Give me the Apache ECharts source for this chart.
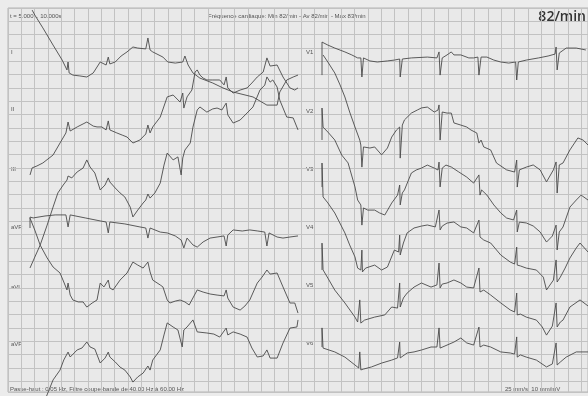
<!DOCTYPE html>
<html>
<head>
<meta charset="utf-8">
<script src="https://cdn.jsdelivr.net/npm/echarts@6/dist/echarts.min.js"></script>
<style>
  html, body { margin: 0; padding: 0; background: #f2f2f2; }
  #chart { width: 588px; height: 396px; }
</style>
</head>
<body>
<div id="chart"></div>
<script>
// 12-lead ECG, 5 s window, each lead as [time (s), amplitude (mV)] samples.
const limbLeads = ['I', 'II', 'III', 'aVR', 'aVL', 'aVF'];
const chestLeads = ['V1', 'V2', 'V3', 'V4', 'V5', 'V6'];

const leadI = [[0.04,2.00],[0.09,1.77],[0.24,1.17],[0.43,0.37],[0.60,-0.33],[0.69,-0.79],[0.71,-0.42],[0.73,-0.93],[0.80,-1.03],[0.93,-1.07],[1.06,-1.12],[1.18,-0.93],[1.31,-0.42],[1.42,-0.56],[1.46,-0.19],[1.49,-0.51],[1.59,-0.42],[1.70,-0.14],[1.81,0.05],[1.92,0.28],[2.01,0.23],[2.16,0.19],[2.20,0.70],[2.24,0.14],[2.29,0.05],[2.48,-0.19],[2.57,-0.42],[2.71,-0.47],[2.85,-0.42],[2.89,-0.14],[2.95,-0.56],[3.04,-0.93],[3.17,-1.17],[3.41,-1.40],[3.60,-1.63],[3.79,-1.82],[4.16,-2.05],[4.42,-2.43],[4.61,-2.43],[4.66,-1.82],[4.79,-1.26],[4.91,-1.12],[5.00,-1.03]];
const leadII = [[0.00,-3.03],[0.04,-2.70],[0.13,-2.61],[0.24,-2.47],[0.43,-2.10],[0.56,-1.54],[0.67,-1.07],[0.71,-0.56],[0.75,-0.98],[0.88,-0.79],[0.99,-0.65],[1.06,-0.56],[1.18,-0.75],[1.25,-0.79],[1.34,-0.79],[1.42,-0.93],[1.46,-0.51],[1.49,-0.93],[1.62,-1.07],[1.72,-1.17],[1.81,-1.26],[1.92,-1.54],[2.05,-1.40],[2.16,-1.12],[2.20,-0.70],[2.24,-1.07],[2.29,-0.79],[2.43,-0.33],[2.56,0.61],[2.67,0.70],[2.80,0.37],[2.85,0.79],[2.87,0.09],[2.93,0.61],[3.02,0.93],[3.08,1.77],[3.12,1.87],[3.17,1.63],[3.23,1.49],[3.30,1.40],[3.41,1.40],[3.54,1.40],[3.62,1.17],[3.66,1.54],[3.69,1.03],[3.79,0.79],[3.92,0.93],[4.05,1.03],[4.14,1.26],[4.24,1.54],[4.35,1.77],[4.42,2.43],[4.48,2.05],[4.61,2.10],[4.72,1.54],[4.85,1.03],[4.94,0.93],[5.00,1.03]];
const leadIII = [[0.00,-4.57],[0.09,-4.06],[0.19,-3.50],[0.32,-2.57],[0.43,-1.73],[0.52,-1.07],[0.62,-0.70],[0.69,-0.47],[0.71,-0.28],[0.78,-0.37],[0.88,-0.09],[0.99,0.09],[1.06,0.47],[1.12,0.14],[1.21,-0.14],[1.31,-0.93],[1.40,-0.70],[1.46,-0.37],[1.49,-0.56],[1.59,-0.84],[1.68,-1.07],[1.77,-1.26],[1.87,-1.73],[1.92,-2.19],[2.01,-1.87],[2.11,-1.54],[2.16,-1.40],[2.20,-1.12],[2.24,-1.31],[2.33,-1.07],[2.43,-0.61],[2.50,0.23],[2.56,0.79],[2.67,0.47],[2.76,0.61],[2.82,-0.23],[2.85,0.56],[2.89,0.93],[2.99,1.26],[3.04,2.00],[3.12,2.80],[3.17,2.94],[3.30,2.70],[3.41,2.85],[3.49,2.89],[3.58,2.80],[3.66,3.12],[3.69,2.57],[3.79,2.19],[3.92,2.33],[4.05,2.66],[4.16,2.94],[4.29,3.73],[4.38,3.96],[4.42,4.34],[4.48,4.10],[4.53,4.20],[4.61,3.87],[4.66,3.26],[4.79,2.47],[4.91,2.43],[5.00,1.87]];
const leadAVR = [[0.00,0.00],[0.00,0.51],[0.06,0.47],[0.28,0.56],[0.47,0.61],[0.67,0.61],[0.71,0.05],[0.75,0.61],[1.03,0.47],[1.31,0.33],[1.42,0.28],[1.46,-0.23],[1.49,0.28],[1.77,0.19],[2.05,0.05],[2.16,0.00],[2.20,-0.47],[2.24,0.00],[2.43,-0.19],[2.56,-0.23],[2.71,-0.37],[2.82,-0.56],[2.87,-0.93],[2.93,-0.47],[3.04,-0.79],[3.12,-0.89],[3.23,-0.65],[3.36,-0.47],[3.49,-0.42],[3.62,-0.37],[3.66,-0.84],[3.69,-0.33],[3.79,-0.09],[3.96,-0.14],[4.10,-0.09],[4.25,-0.14],[4.38,-0.19],[4.42,-0.84],[4.46,-0.23],[4.61,-0.42],[4.72,-0.47],[4.85,-0.42],[5.00,-0.37]];
const leadAVL = [[0.00,3.26],[0.09,2.70],[0.19,2.00],[0.32,1.40],[0.43,0.98],[0.56,0.70],[0.63,0.28],[0.69,-0.09],[0.71,0.23],[0.75,-0.33],[0.80,-0.56],[0.90,-0.65],[0.99,-0.65],[1.06,-0.89],[1.16,-0.70],[1.25,-0.56],[1.31,0.23],[1.38,0.05],[1.46,0.37],[1.49,0.00],[1.55,-0.09],[1.68,0.37],[1.81,0.70],[1.92,1.21],[2.01,1.07],[2.11,0.93],[2.20,1.21],[2.24,0.75],[2.29,0.37],[2.43,0.14],[2.48,0.05],[2.56,-0.56],[2.61,-0.70],[2.71,-0.61],[2.80,-0.56],[2.89,-0.65],[2.97,-0.79],[3.12,-0.09],[3.23,-0.19],[3.36,-0.28],[3.49,-0.33],[3.62,-0.37],[3.66,-0.09],[3.69,-0.47],[3.79,-0.89],[3.92,-1.03],[4.01,-0.84],[4.10,-0.56],[4.24,0.23],[4.33,0.51],[4.42,0.84],[4.48,0.65],[4.61,0.70],[4.72,0.05],[4.85,-0.70],[4.94,-0.70],[5.00,-1.17]];
const leadAVF = [[0.19,-3.12],[0.34,-2.19],[0.43,-1.63],[0.56,-1.17],[0.63,-0.70],[0.71,-0.33],[0.75,-0.56],[0.88,-0.23],[0.97,-0.14],[1.06,0.14],[1.12,-0.09],[1.21,-0.19],[1.31,-0.84],[1.40,-0.61],[1.46,-0.33],[1.49,-0.56],[1.59,-0.79],[1.68,-1.03],[1.77,-1.17],[1.87,-1.49],[1.92,-1.73],[2.01,-1.49],[2.11,-1.31],[2.20,-0.98],[2.24,-1.17],[2.29,-0.70],[2.43,-0.23],[2.50,0.47],[2.56,1.03],[2.67,0.84],[2.76,0.70],[2.84,-0.09],[2.87,0.70],[2.93,0.84],[3.04,1.17],[3.12,0.61],[3.30,0.56],[3.43,0.51],[3.54,0.37],[3.66,0.79],[3.69,0.47],[3.79,0.61],[3.92,0.51],[4.05,0.37],[4.14,-0.14],[4.24,-0.56],[4.35,-0.51],[4.42,-0.23],[4.48,-0.61],[4.61,-0.61],[4.72,0.09],[4.85,0.79],[4.98,0.84],[5.00,1.17]];

const leadV1 = [[0.00,-1.03],[0.00,0.51],[0.11,0.37],[0.24,0.23],[0.43,0.05],[0.56,-0.09],[0.67,-0.23],[0.73,-0.23],[0.75,-1.12],[0.78,-0.23],[0.90,-0.37],[1.04,-0.42],[1.23,-0.37],[1.36,-0.33],[1.46,-0.28],[1.47,-1.12],[1.51,-0.28],[1.68,-0.23],[1.98,-0.19],[2.16,-0.23],[2.20,0.05],[2.22,-1.03],[2.26,-0.23],[2.35,-0.09],[2.43,0.05],[2.48,-0.09],[2.61,-0.09],[2.76,-0.23],[2.85,-0.23],[2.93,-0.19],[2.95,-1.03],[2.99,-0.19],[3.10,-0.19],[3.23,-0.33],[3.36,-0.42],[3.51,-0.47],[3.64,-0.42],[3.66,-1.26],[3.69,-0.42],[3.84,-0.33],[4.07,-0.23],[4.25,-0.14],[4.38,-0.05],[4.40,0.28],[4.42,-0.79],[4.46,0.00],[4.59,0.23],[4.78,0.23],[4.96,0.14]];
const leadV2 = [[0.02,2.66],[0.11,2.33],[0.24,1.82],[0.34,1.26],[0.43,0.70],[0.52,0.00],[0.62,-0.70],[0.71,-1.31],[0.73,-1.54],[0.75,-2.57],[0.78,-1.63],[0.90,-1.68],[0.99,-1.63],[1.12,-2.00],[1.23,-1.68],[1.31,-1.17],[1.40,-0.84],[1.46,-0.70],[1.47,-2.15],[1.51,-0.61],[1.55,-0.37],[1.68,-0.05],[1.79,0.09],[1.87,0.19],[1.98,0.23],[2.11,0.00],[2.18,0.09],[2.20,0.33],[2.22,-1.31],[2.26,0.00],[2.35,-0.05],[2.43,-0.05],[2.48,-0.51],[2.61,-0.61],[2.72,-0.70],[2.80,-0.84],[2.91,-0.98],[2.95,-1.45],[2.99,-1.31],[3.04,-1.63],[3.17,-1.77],[3.28,-2.38],[3.47,-2.70],[3.62,-2.80],[3.66,-2.24],[3.67,-3.50],[3.71,-2.70],[3.84,-2.57],[3.97,-2.47],[4.10,-2.70],[4.22,-3.26],[4.35,-2.70],[4.40,-2.33],[4.42,-3.78],[4.46,-2.47],[4.53,-2.38],[4.66,-1.77],[4.81,-1.21],[4.91,-1.31],[5.00,-1.54]];
const leadV3 = [[0.00,1.40],[0.00,2.89],[0.02,2.00],[0.11,1.77],[0.24,1.40],[0.37,0.70],[0.49,0.33],[0.62,-0.79],[0.67,-1.40],[0.73,-1.63],[0.75,-2.57],[0.78,-1.77],[0.86,-1.87],[0.99,-1.87],[1.08,-2.00],[1.18,-2.10],[1.31,-1.54],[1.42,-1.17],[1.46,-0.70],[1.47,-1.63],[1.51,-1.07],[1.55,-0.93],[1.68,-0.14],[1.77,0.00],[1.87,0.09],[1.98,0.23],[2.11,0.09],[2.18,0.00],[2.20,0.37],[2.22,-0.79],[2.26,0.09],[2.33,0.23],[2.43,0.14],[2.57,-0.09],[2.72,-0.33],[2.85,-0.61],[2.95,-0.23],[2.97,-1.17],[3.00,-0.93],[3.10,-1.17],[3.23,-1.63],[3.36,-2.00],[3.47,-2.24],[3.60,-2.33],[3.66,-1.87],[3.67,-2.89],[3.71,-2.43],[3.84,-2.47],[3.97,-2.61],[4.10,-2.89],[4.22,-3.36],[4.33,-3.08],[4.40,-2.57],[4.42,-3.73],[4.46,-2.89],[4.53,-2.66],[4.66,-1.73],[4.78,-1.40],[4.87,-1.17],[5.00,-1.40]];
const leadV4 = [[0.00,1.91],[0.00,3.03],[0.02,1.45],[0.11,1.17],[0.24,0.70],[0.43,-0.23],[0.52,-0.79],[0.62,-1.35],[0.67,-1.87],[0.73,-1.96],[0.75,-1.03],[0.76,-2.05],[0.82,-1.87],[0.99,-1.73],[1.12,-1.96],[1.23,-1.82],[1.36,-1.03],[1.44,-1.12],[1.46,-0.33],[1.47,-1.26],[1.53,-0.70],[1.60,-0.23],[1.73,0.00],[1.87,0.09],[1.98,0.14],[2.13,0.05],[2.20,0.84],[2.22,-0.09],[2.26,0.09],[2.35,0.23],[2.48,0.28],[2.61,0.05],[2.72,0.00],[2.85,-0.23],[2.95,0.37],[2.97,-0.42],[3.04,-0.56],[3.17,-0.70],[3.36,-1.26],[3.54,-1.59],[3.62,-1.68],[3.66,-0.89],[3.67,-1.73],[3.73,-1.77],[3.84,-1.87],[4.03,-1.96],[4.16,-2.29],[4.22,-2.89],[4.35,-2.43],[4.40,-1.49],[4.42,-2.52],[4.48,-2.29],[4.57,-1.87],[4.66,-1.40],[4.78,-0.93],[4.85,-0.70],[5.00,-1.12]];
const leadV5 = [[0.00,0.75],[0.00,2.00],[0.02,0.75],[0.11,0.37],[0.24,-0.19],[0.43,-0.79],[0.62,-1.45],[0.67,-1.68],[0.71,-0.65],[0.73,-1.73],[0.80,-1.59],[0.99,-1.45],[1.18,-1.35],[1.31,-0.98],[1.42,-1.03],[1.46,0.14],[1.47,-0.98],[1.53,-0.56],[1.60,-0.33],[1.73,-0.05],[1.87,0.14],[2.05,-0.05],[2.16,0.05],[2.20,1.07],[2.22,-0.09],[2.26,0.09],[2.35,0.14],[2.48,0.28],[2.61,0.14],[2.72,-0.05],[2.85,-0.09],[2.95,0.84],[2.97,-0.28],[3.04,-0.19],[3.17,-0.42],[3.36,-0.79],[3.54,-1.12],[3.62,-1.21],[3.66,-0.33],[3.67,-1.35],[3.73,-1.31],[3.84,-1.45],[4.03,-1.59],[4.14,-1.91],[4.22,-2.29],[4.33,-1.87],[4.40,-0.79],[4.42,-1.91],[4.48,-1.68],[4.53,-1.59],[4.66,-0.98],[4.85,-0.65],[5.00,-0.93]];
const leadV6 = [[0.00,-0.14],[0.00,0.75],[0.02,-0.19],[0.24,-0.37],[0.43,-0.61],[0.62,-0.98],[0.69,-1.12],[0.71,-0.37],[0.73,-1.21],[0.78,-1.17],[0.93,-1.07],[1.12,-0.89],[1.31,-0.75],[1.42,-0.65],[1.46,0.09],[1.47,-0.65],[1.60,-0.42],[1.73,-0.37],[1.87,-0.28],[2.05,-0.14],[2.16,-0.14],[2.20,0.75],[2.22,-0.19],[2.35,-0.05],[2.48,0.09],[2.61,0.28],[2.72,0.05],[2.85,-0.05],[2.95,0.79],[2.97,-0.14],[3.04,-0.05],[3.17,-0.14],[3.36,-0.37],[3.54,-0.42],[3.62,-0.47],[3.66,0.33],[3.67,-0.61],[3.73,-0.51],[3.84,-0.61],[4.03,-0.75],[4.22,-1.07],[4.33,-0.93],[4.40,0.05],[4.42,-0.98],[4.48,-0.84],[4.59,-0.61],[4.78,-0.37],[5.00,-0.37]];

const limbData = [leadI, leadII, leadIII, leadAVR, leadAVL, leadAVF];
const chestData = [leadV1, leadV2, leadV3, leadV4, leadV5, leadV6];

// Layout (pixels)
const W = 588, H = 396;
const PX_PER_MV = 21.44;              // 10 mm/mV
const rowBase = [53, 110, 170, 228, 288, 345];
const chestBase = [53, 112, 170, 228, 286, 344];
const LEFT_X = 30, RIGHT_X = 322, COL_W = 268;
const CELL = 13.33;                   // paper grid pitch
const PAPER = { left: 8, top: 8, width: 580, height: 384 };

const traceColor = '#4a4a4a';
const textColor = '#555555';
const font = '"Liberation Sans", Arial, sans-serif';

function leadSeries(data, base, axisIndex) {
  const offset = -base / PX_PER_MV;
  return {
    type: 'line',
    xAxisIndex: axisIndex,
    yAxisIndex: axisIndex,
    data: data.map(([t, v]) => [t, v + offset]),
    showSymbol: false,
    symbol: 'none',
    clip: false,
    lineStyle: { color: traceColor, width: 0.9 },
    silent: true,
    animation: false
  };
}

const series = [];
limbData.forEach((d, i) => series.push(leadSeries(d, rowBase[i], 1)));
chestData.forEach((d, i) => series.push(leadSeries(d, chestBase[i], 2)));

const yMin = -H / PX_PER_MV;
const hiddenAxis = { show: true, axisLine: { show: false }, axisTick: { show: false }, axisLabel: { show: false }, splitLine: { show: false } };

const labels = [];
limbLeads.forEach((n, i) => labels.push({ type: 'text', left: 11, top: rowBase[i] - 4, style: { text: n, fill: textColor, font: '6px ' + font } }));
chestLeads.forEach((n, i) => labels.push({ type: 'text', left: 306, top: chestBase[i] - 4, style: { text: n, fill: textColor, font: '6px ' + font } }));

const chart = echarts.init(document.getElementById('chart'), null, { renderer: 'canvas' });
chart.setOption({
  backgroundColor: '#ececec',
  animation: false,
  grid: [
    { left: PAPER.left, top: PAPER.top, width: PAPER.width, height: PAPER.height, show: true, borderColor: '#b5b5b5', borderWidth: 1, backgroundColor: '#e9e9e9' },
    { left: LEFT_X, top: 0, width: COL_W, height: H },
    { left: RIGHT_X, top: 0, width: COL_W, height: H }
  ],
  xAxis: [
    { type: 'value', gridIndex: 0, min: 0, max: PAPER.width / CELL, interval: 1, axisLine: { show: false }, axisTick: { show: false }, axisLabel: { show: false },
      splitLine: { show: true, lineStyle: { color: '#c2c2c2', width: 1 } } },
    Object.assign({ type: 'value', gridIndex: 1, min: 0, max: 5 }, hiddenAxis),
    Object.assign({ type: 'value', gridIndex: 2, min: 0, max: 5 }, hiddenAxis)
  ],
  yAxis: [
    { type: 'value', gridIndex: 0, min: 0, max: PAPER.height / CELL, interval: 1, inverse: true, axisLine: { show: false }, axisTick: { show: false }, axisLabel: { show: false },
      splitLine: { show: true, lineStyle: { color: '#c2c2c2', width: 1 } } },
    Object.assign({ type: 'value', gridIndex: 1, min: yMin, max: 0 }, hiddenAxis),
    Object.assign({ type: 'value', gridIndex: 2, min: yMin, max: 0 }, hiddenAxis)
  ],
  series: series,
  graphic: [
    { type: 'text', left: 10, top: 13, style: { text: 't = 5.000 .. 10.000s', fill: textColor, font: '6px ' + font } },
    { type: 'text', left: 208, top: 13, style: { text: 'Fréquence cardiaque: Min 82/min - Av 82/min - Max 83/min', fill: textColor, font: '6px ' + font } },
    { type: 'text', right: 2, top: 10, style: { text: '82/min', fill: '#333', font: '600 14px "Open Sans", sans-serif' } },
    { type: 'text', left: 10, top: 386, style: { text: 'Passe-haut : 0.05 Hz, Filtre coupe-bande de 40.00 Hz à 60.00 Hz', fill: textColor, font: '6px ' + font } },
    { type: 'text', left: 505, top: 386, style: { text: '25 mm/s  10 mm/mV', fill: textColor, font: '6px ' + font } }
  ].concat(labels)
});
</script>
</body>
</html>
